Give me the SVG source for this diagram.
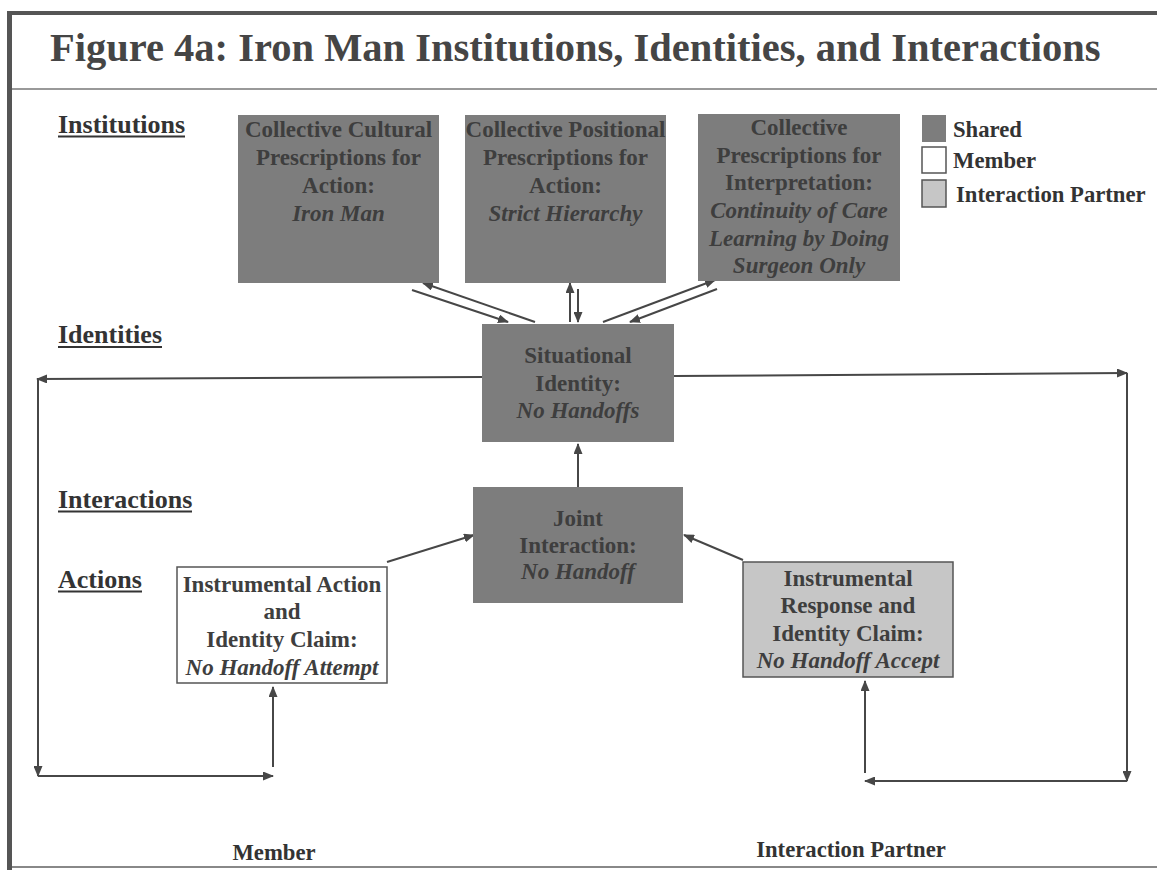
<svg xmlns="http://www.w3.org/2000/svg" width="1157" height="870" viewBox="0 0 1157 870">
<style>
.t{font-family:"Liberation Serif","Times New Roman",serif;font-weight:bold;}
.title{font-size:40.5px;fill:#454545}
.lbl{font-size:26px;fill:#333}
.ul{stroke:#333;stroke-width:2}
.bx{font-size:23px;text-anchor:middle;fill:#3e3e3e}
.lg{font-size:22.7px;fill:#333}
.i{font-style:italic}
.shared{fill:#7d7d7d}
.member{fill:#fff;stroke:#555;stroke-width:1.5}
.partner{fill:#c6c6c6;stroke:#555;stroke-width:1.5}
.conn line{stroke:#474747;stroke-width:2;fill:none}
.arr{marker-end:url(#ah)}
</style>
<defs>
<marker id="ah" markerUnits="userSpaceOnUse" markerWidth="11" markerHeight="9" refX="10" refY="4.5" orient="auto">
<path d="M0,0 L11,4.5 L0,9 z" fill="#474747"/>
</marker>
</defs>
<rect x="0" y="0" width="1157" height="870" fill="#fff"/>
<!-- frame -->
<g id="frame">
<line x1="7" y1="13" x2="1157" y2="13" stroke="#555" stroke-width="4"/>
<line x1="9.5" y1="11" x2="9.5" y2="870" stroke="#555" stroke-width="5"/>
<line x1="12" y1="89" x2="1157" y2="89" stroke="#777" stroke-width="1.5"/>
<line x1="12" y1="867" x2="1157" y2="867" stroke="#888" stroke-width="2"/>
</g>
<text class="t title" x="50" y="61">Figure 4a: Iron Man Institutions, Identities, and Interactions</text>
<!-- level labels -->
<g id="labels">
<text class="t lbl" x="58" y="133">Institutions</text>
<line class="ul" x1="58" y1="136.5" x2="185" y2="136.5"/>
<text class="t lbl" x="58" y="343">Identities</text>
<line class="ul" x1="58" y1="347" x2="162" y2="347"/>
<text class="t lbl" x="58" y="508">Interactions</text>
<line class="ul" x1="58" y1="511.5" x2="192" y2="511.5"/>
<text class="t lbl" x="58" y="588">Actions</text>
<line class="ul" x1="58" y1="591.5" x2="142" y2="591.5"/>
</g>
<!-- legend -->
<g id="legend">
<rect class="shared" x="922" y="115" width="24" height="27"/>
<text class="t lg" x="953" y="137">Shared</text>
<rect class="member" x="922" y="147" width="24" height="26"/>
<text class="t lg" x="953" y="168">Member</text>
<rect class="partner" x="922" y="180" width="24" height="27"/>
<text class="t lg" x="956" y="202">Interaction Partner</text>
</g>
<!-- connectors -->
<g id="connectors" class="conn">
<line class="arr" x1="535" y1="322" x2="423" y2="283"/>
<line class="arr" x1="412" y1="290" x2="508" y2="322"/>
<line class="arr" x1="570" y1="322" x2="570" y2="283"/>
<line class="arr" x1="578" y1="289" x2="578" y2="322"/>
<line class="arr" x1="603" y1="322" x2="715" y2="280"/>
<line class="arr" x1="717" y1="289" x2="630" y2="322"/>
<line class="arr" x1="578" y1="487" x2="578" y2="444"/>
<line class="arr" x1="387" y1="562" x2="474" y2="535"/>
<line class="arr" x1="743" y1="560" x2="684" y2="535"/>
<line class="arr" x1="482" y1="377" x2="37" y2="379"/>
<line class="arr" x1="38" y1="379" x2="38" y2="776"/>
<line class="arr" x1="38" y1="776" x2="273" y2="776"/>
<line class="arr" x1="273" y1="767" x2="273" y2="687"/>
<line class="arr" x1="674" y1="376" x2="1127" y2="373"/>
<line class="arr" x1="1127" y1="373" x2="1127" y2="781"/>
<line class="arr" x1="1127" y1="781" x2="865" y2="781"/>
<line class="arr" x1="865" y1="773" x2="865" y2="681"/>
</g>
<!-- nodes -->
<g id="cultural">
<rect class="shared" x="238" y="115" width="201" height="168"/>
<text class="t bx" x="338.5" y="137">Collective Cultural</text>
<text class="t bx" x="338.5" y="165">Prescriptions for</text>
<text class="t bx" x="338.5" y="193">Action:</text>
<text class="t bx i" x="338.5" y="221">Iron Man</text>
</g>
<g id="positional">
<rect class="shared" x="465" y="115" width="201" height="168"/>
<text class="t bx" x="565.5" y="137">Collective Positional</text>
<text class="t bx" x="565.5" y="165">Prescriptions for</text>
<text class="t bx" x="565.5" y="193">Action:</text>
<text class="t bx i" x="565.5" y="221">Strict Hierarchy</text>
</g>
<g id="interpretation">
<rect class="shared" x="698" y="114" width="202" height="167"/>
<text class="t bx" x="799" y="135">Collective</text>
<text class="t bx" x="799" y="163">Prescriptions for</text>
<text class="t bx" x="799" y="190">Interpretation:</text>
<text class="t bx i" x="799" y="218">Continuity of Care</text>
<text class="t bx i" x="799" y="246">Learning by Doing</text>
<text class="t bx i" x="799" y="273">Surgeon Only</text>
</g>
<g id="situational">
<rect class="shared" x="482" y="324" width="192" height="118"/>
<text class="t bx" x="578" y="363">Situational</text>
<text class="t bx" x="578" y="391">Identity:</text>
<text class="t bx i" x="578" y="418">No Handoffs</text>
</g>
<g id="joint">
<rect class="shared" x="473" y="487" width="210" height="116"/>
<text class="t bx" x="578" y="526">Joint</text>
<text class="t bx" x="578" y="553">Interaction:</text>
<text class="t bx i" x="578" y="579">No Handoff</text>
</g>
<g id="member-action">
<rect class="member" x="177" y="567" width="210" height="116"/>
<text class="t bx" x="282" y="592">Instrumental Action</text>
<text class="t bx" x="282" y="619">and</text>
<text class="t bx" x="282" y="647">Identity Claim:</text>
<text class="t bx i" x="282" y="675">No Handoff Attempt</text>
</g>
<g id="partner-response">
<rect class="partner" x="743" y="562" width="210" height="115"/>
<text class="t bx" x="848" y="586">Instrumental</text>
<text class="t bx" x="848" y="613">Response and</text>
<text class="t bx" x="848" y="641">Identity Claim:</text>
<text class="t bx i" x="848" y="668">No Handoff Accept</text>
</g>
<g id="bottom-labels">
<text class="t lg" x="274" y="860" text-anchor="middle">Member</text>
<text class="t lg" x="851" y="857" text-anchor="middle">Interaction Partner</text>
</g>
</svg>
